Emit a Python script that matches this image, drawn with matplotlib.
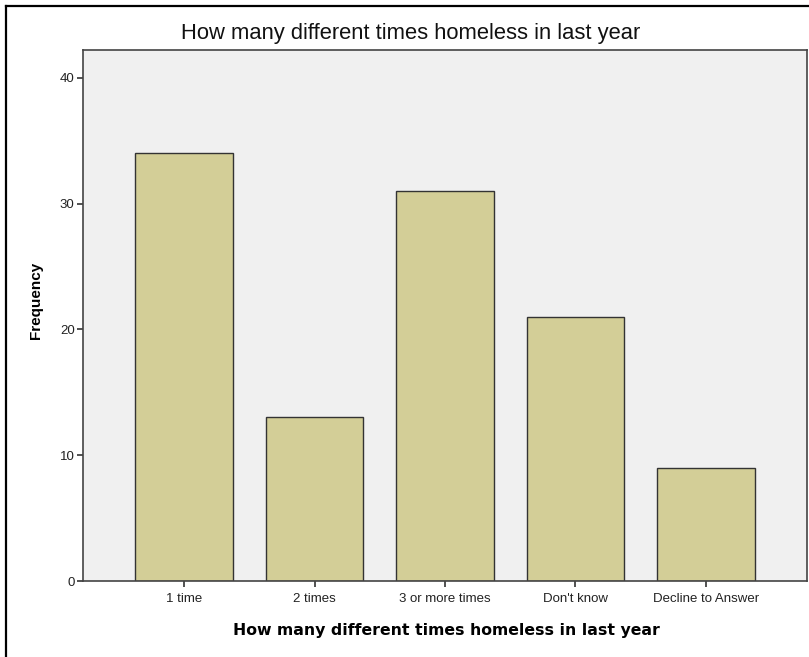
import matplotlib
matplotlib.use('Agg')
import matplotlib.pyplot as plt
from matplotlib.lines import Line2D

## -- chart data
categories = ['1 time', '2 times', '3 or more times', "Don't know", 'Decline to Answer']
counts = [34, 13, 31, 21, 9]
yticks = [0, 10, 20, 30, 40]
title = 'How many different times homeless in last year'

plt.rcParams['font.family'] = ['Liberation Sans', 'DejaVu Sans']

W, H = 809, 657
fig = plt.figure(figsize=(W / 100, H / 100), dpi=100)
fig.patch.set_facecolor('white')

## -- plot area in pixel coords
left, right, top, bottom = 83, 807, 50, 581
ax = fig.add_axes([left / W, 1 - bottom / H, (right - left) / W, (bottom - top) / H])
ax.set_facecolor('#F0F0F0')

x = list(range(len(categories)))
ax.bar(x, counts, width=0.75, color='#D3CE97', edgecolor='#333333', linewidth=1.0, zorder=2)

ax.set_xlim(-0.774, 4.774)
ax.set_ylim(0, 42.2)
ax.set_xticks(x)
ax.set_xticklabels(categories, fontsize=9.5, color='#222222')
ax.set_yticks(yticks)
ax.set_yticklabels([str(v) for v in yticks], fontsize=9.5, color='#222222')
ax.tick_params(axis='x', length=4.5, width=1.2, color='#333333', pad=4)
ax.tick_params(axis='y', length=4, width=1.2, color='#333333', pad=2)
for s in ax.spines.values():
  s.set_color('#444444')
  s.set_linewidth(1.2)

## -- titles / labels
fig.text(411 / W, 1 - 33 / H, title, ha='center', va='center', fontsize=15.8, color='#111111')
fig.text(446 / W, 1 - 630 / H, title, ha='center', va='center', fontsize=11.3,
         fontweight='bold', family='DejaVu Sans')
fig.text(36 / W, 1 - 300 / H, 'Frequency', ha='center', va='center', rotation=90,
         fontsize=11, fontweight='bold')

## -- outer frame (only left and top visible)
fig.add_artist(Line2D([5.5 / W, 5.5 / W], [0, 1 - 5.5 / H], transform=fig.transFigure,
                      color='black', linewidth=1.6))
fig.add_artist(Line2D([5.5 / W, 1], [1 - 5.5 / H, 1 - 5.5 / H], transform=fig.transFigure,
                      color='black', linewidth=1.6))

fig.savefig('out.png', dpi=100)
